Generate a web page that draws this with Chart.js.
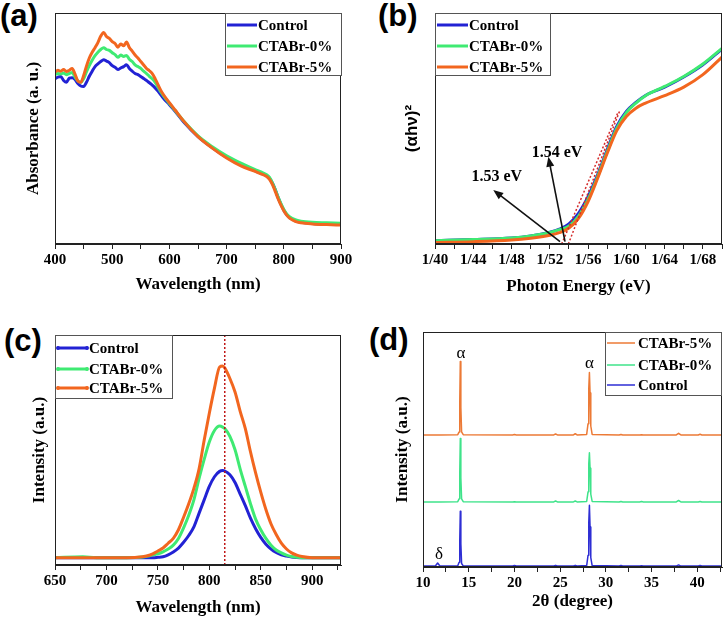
<!DOCTYPE html>
<html><head><meta charset="utf-8">
<script src="https://cdn.jsdelivr.net/npm/chart.js@4.4.1/dist/chart.umd.min.js"></script>
<style>
body{margin:0;background:#fff;width:724px;height:619px;position:relative;overflow:hidden}
canvas{position:absolute}
.lab{position:absolute;font:bold 31px "Liberation Sans",Arial,sans-serif;color:#000;line-height:30px}
</style></head><body>
<div class="lab" style="left:0;top:1px">(a)</div>
<div class="lab" style="left:378px;top:1px">(b)</div>
<div class="lab" style="left:4px;top:326px">(c)</div>
<div class="lab" style="left:369px;top:325px">(d)</div>
<canvas id="ca" width="362" height="300" style="left:0;top:0"></canvas>
<canvas id="cb" width="362" height="300" style="left:362px;top:0"></canvas>
<canvas id="cc" width="362" height="319" style="left:0;top:300px"></canvas>
<canvas id="cd" width="362" height="319" style="left:362px;top:300px"></canvas>
<script>
// ---------- (a) UV-vis absorbance ----------
const absWl = [400,405,410,415,420,425,430,435,440,445,450,455,460,465,470,475,480,485,490,495,500,505,510,515,520,525,530,535,540,545,550,555,560,565,570,575,580,585,590,600,610,625,650,675,700,725,750,760,770,775,780,785,790,795,800,805,810,820,830,850,875,900];
const absCtab5 = [.743,.752,.748,.755,.747,.752,.760,.735,.705,.700,.728,.770,.805,.830,.850,.872,.900,.916,.898,.890,.876,.868,.852,.866,.858,.874,.850,.835,.818,.805,.790,.775,.760,.750,.738,.716,.690,.665,.645,.612,.580,.532,.465,.415,.372,.338,.314,.304,.292,.280,.258,.228,.196,.168,.144,.125,.112,.098,.092,.087,.084,.082];
const absCtab0 = [.733,.738,.736,.740,.733,.738,.742,.722,.706,.700,.715,.745,.772,.795,.815,.830,.842,.850,.842,.838,.828,.820,.808,.818,.812,.816,.800,.790,.775,.768,.760,.748,.738,.726,.715,.700,.680,.658,.640,.608,.578,.532,.468,.421,.382,.350,.322,.312,.300,.288,.265,.236,.203,.175,.150,.130,.118,.105,.099,.094,.092,.090];
const absControl = [.715,.722,.725,.708,.700,.718,.720,.712,.695,.684,.682,.700,.726,.748,.768,.780,.790,.798,.792,.785,.772,.765,.755,.762,.768,.776,.760,.748,.738,.733,.725,.716,.708,.698,.688,.676,.662,.646,.630,.603,.575,.528,.465,.417,.376,.343,.317,.306,.295,.284,.264,.236,.202,.172,.146,.127,.114,.100,.094,.089,.086,.085];

// ---------- (b) Tauc plot ----------
const tauE = [1.40,1.44,1.48,1.50,1.52,1.53,1.54,1.55,1.56,1.57,1.58,1.59,1.60,1.61,1.62,1.64,1.66,1.68,1.70];
const tauControl = [.0145,.019,.026,.035,.051,.064,.087,.133,.205,.299,.408,.509,.574,.613,.643,.679,.723,.776,.844];
const tauCtab0 = [.0145,.019,.026,.035,.050,.062,.078,.121,.194,.292,.400,.501,.569,.610,.642,.682,.725,.779,.847];
const tauCtab5 = [.007,.010,.017,.025,.038,.049,.069,.111,.184,.285,.393,.491,.552,.588,.610,.642,.679,.733,.809];
const tangent1E = [1.5324,1.5916], tangent1Y = [0,0.573];
const tangent2E = [1.5394,1.5934], tangent2Y = [0,0.580];
const gapArrows = [[1.5307,0.010,1.4609,0.234],[1.5359,0.010,1.5185,0.378]];
const gapLabels = ['1.53 eV','1.54 eV'];
const gapLabelAt = [[1.4645,0.291],[1.5275,0.394]];

// ---------- (c) PL ----------
const plWl = [650,677,690,700,720,735,740,745,750,755,760,765,770,775,780,785,790,795,800,805,810,813,815,820,825,830,835,840,845,850,855,860,865,870,875,880,885,890,900,928];
const plCtab5 = [0,0,0,0,0,.005,.01,.02,.035,.05,.075,.10,.145,.21,.28,.36,.46,.61,.75,.88,.99,.995,.985,.93,.86,.76,.67,.55,.44,.34,.25,.175,.12,.075,.045,.025,.013,.006,0,0];
const plCtab0 = [0,.005,0,0,0,.003,.008,.015,.02,.03,.045,.065,.10,.155,.22,.30,.41,.51,.60,.66,.683,.678,.67,.63,.56,.46,.37,.28,.20,.145,.10,.065,.04,.025,.013,.006,.002,0,0,0];
const plControl = [0,0,0,0,0,0,0,0,.002,.005,.015,.03,.05,.08,.115,.16,.23,.30,.37,.42,.448,.452,.45,.43,.39,.33,.27,.205,.15,.105,.07,.045,.027,.015,.008,.003,.001,0,0,0];
const plMarkX = [815,815], plMarkY = [-0.038,1.156];

// ---------- (d) XRD ----------
const xrdTheta = [10,11.35,11.6,11.85,13.8,13.95,14.02,14.08,14.14,14.22,14.4,19.8,20.0,20.2,24.3,24.5,24.7,26.45,26.65,26.85,27.9,28.05,28.13,28.2,28.27,28.35,28.5,31.45,31.65,31.85,33.7,33.9,34.1,37.7,37.95,38.2,40.1,40.3,40.5,42.7];
const xrdControl = [.004,.004,.017,.004,.005,.02,.11,.2375,.10,.015,.005,.004,.006,.004,.004,.007,.004,.004,.007,.004,.006,.05,.19,.263,.17,.04,.006,.004,.006,.004,.004,.005,.004,.004,.009,.004,.004,.006,.004,.004];
const xrdCtab0 = [.277,.277,.277,.277,.278,.29,.40,.547,.38,.29,.278,.277,.278,.277,.277,.281,.277,.277,.281,.277,.279,.32,.44,.486,.42,.31,.279,.277,.279,.277,.277,.279,.277,.277,.283,.277,.277,.279,.277,.277];
const xrdCtab5 = [.562,.562,.562,.562,.563,.575,.70,.874,.68,.575,.563,.562,.564,.562,.562,.566,.562,.562,.567,.562,.564,.61,.76,.828,.74,.60,.564,.562,.564,.562,.562,.563,.562,.562,.569,.562,.562,.565,.562,.562];
const phaseLabels = ['α','α','δ'];
const phaseLabelAt = [[14.16,0.91],[28.2,0.865],[11.75,0.052]];

// ---------- drawing ----------
const SERIF = '"Liberation Serif","Times New Roman",serif';
const BLUE='#2222d4', GREEN='#3fea72', ORANGE='#f2661f';
const pts = (xs, ys) => xs.map((x,i)=>({x:x, y:ys[i]}));

function framePlugin(){ return {id:'frame', afterDatasetsDraw(chart){
  const {ctx, chartArea:a} = chart; ctx.save(); ctx.strokeStyle='#222'; ctx.lineWidth=1;
  ctx.strokeRect(Math.round(a.left)+0.5, Math.round(a.top)+0.5, Math.round(a.right-a.left)-1, Math.round(a.bottom-a.top)-1);
  ctx.restore(); }}; }

function legendPlugin(L){ return {id:'boxLegend', afterDraw(chart){
  const ctx = chart.ctx; ctx.save();
  ctx.fillStyle='#fff'; ctx.fillRect(L.x, L.y, L.w, L.h);
  ctx.strokeStyle='#555'; ctx.lineWidth=1; ctx.strokeRect(L.x+0.5, L.y+0.5, L.w, L.h);
  L.items.forEach((idx,i)=>{
    const ds = chart.data.datasets[idx]; const y = L.rows[i];
    ctx.strokeStyle = ds.borderColor; ctx.lineWidth = L.lw;
    ctx.beginPath(); ctx.moveTo(L.x0, y); ctx.lineTo(L.x1, y); ctx.stroke();
    if (L.dots){ ctx.fillStyle = ds.borderColor; [L.x0+1, L.x1-1].forEach(px=>{ctx.beginPath(); ctx.arc(px,y,2,0,Math.PI*2); ctx.fill();}); }
    ctx.fillStyle='#000'; ctx.font='bold 15px '+SERIF; ctx.textBaseline='middle'; ctx.textAlign='left';
    ctx.fillText(ds.label, L.tx, y+1);
  });
  ctx.restore(); }}; }

function notesPlugin(N){ return {id:'notes', afterDatasetsDraw(chart){
  const xs = chart.scales.x, ys = chart.scales.y, ctx = chart.ctx; ctx.save();
  (N.arrows||[]).forEach(a=>{
    const x1=xs.getPixelForValue(a[0]), y1=ys.getPixelForValue(a[1]), x2=xs.getPixelForValue(a[2]), y2=ys.getPixelForValue(a[3]);
    const ang = Math.atan2(y2-y1, x2-x1), hl=10, hw=4;
    ctx.strokeStyle='#111'; ctx.lineWidth=1.6;
    ctx.beginPath(); ctx.moveTo(x1,y1); ctx.lineTo(x2-Math.cos(ang)*hl*0.8, y2-Math.sin(ang)*hl*0.8); ctx.stroke();
    ctx.fillStyle='#111'; ctx.beginPath(); ctx.moveTo(x2,y2);
    ctx.lineTo(x2-Math.cos(ang)*hl - Math.sin(ang)*hw, y2-Math.sin(ang)*hl + Math.cos(ang)*hw);
    ctx.lineTo(x2-Math.cos(ang)*hl + Math.sin(ang)*hw, y2-Math.sin(ang)*hl - Math.cos(ang)*hw);
    ctx.closePath(); ctx.fill();
  });
  (N.texts||[]).forEach(t=>{
    ctx.fillStyle='#000'; ctx.font=N.font; ctx.textAlign='center'; ctx.textBaseline='middle';
    ctx.fillText(t[0], xs.getPixelForValue(t[1]), ys.getPixelForValue(t[2]));
  });
  ctx.restore(); }}; }

function build(id, o){
  return new Chart(document.getElementById(id), {type:'line', data:{datasets:o.datasets}, options:{
    responsive:false, animation:false, devicePixelRatio:1,
    layout:{padding:o.pad},
    plugins:{legend:{display:false}, tooltip:{enabled:false}},
    elements:{point:{radius:0}, line:{borderJoinStyle:'round'}},
    scales:{
      x:{type:'linear', min:o.xmin, max:o.xmax, afterFit:s=>{s.height=o.xh;},
        ticks:{stepSize:o.step, autoSkip:false, includeBounds:false, maxRotation:0, color:'#000',
          font:{family:SERIF, size:15, weight:'bold'}, padding:2, callback:o.fmt},
        grid:{drawOnChartArea:false, drawTicks:true, tickLength:5, color:'#222'},
        border:{color:'#222', width:1},
        title:{display:true, text:o.xt, color:'#000', font:{family:SERIF, size:17, weight:'bold'}, padding:{top:0, bottom:o.xtp}}},
      y:{type:'linear', min:o.ymin, max:o.ymax, afterFit:s=>{s.width=o.yw;},
        ticks:{display:false}, grid:{display:false}, border:{color:'#222'},
        title:{display:true, text:o.yt, color:'#000', font:o.ytf || {family:SERIF, size:17, weight:'bold'}, padding:{top:o.ytp, bottom:0}}}
    }}, plugins:[framePlugin(), notesPlugin(o.notes||{}), legendPlugin(o.legend)]});
}
const smooth = {pointRadius:0, borderWidth:3, cubicInterpolationMode:'monotone', fill:false};

// (a)
build('ca', {pad:{left:0,top:13,right:21,bottom:0}, yw:55, xh:56, xmin:400, xmax:900, step:50,
  fmt:v=>v%100===0?String(v):'', xt:'Wavelength (nm)', xtp:5, ymin:0, ymax:1, yt:'Absorbance (a. u.)', ytp:23,
  datasets:[
    Object.assign({label:'CTABr-5%', data:pts(absWl,absCtab5), borderColor:ORANGE}, smooth),
    Object.assign({label:'CTABr-0%', data:pts(absWl,absCtab0), borderColor:GREEN}, smooth),
    Object.assign({label:'Control', data:pts(absWl,absControl), borderColor:BLUE}, smooth)],
  legend:{x:225,y:13,w:116,h:62,rows:[25,46,67],x0:227,x1:257,tx:258,lw:3,items:[2,1,0]}});

// (b)
build('cb', {pad:{left:0,top:13,right:2,bottom:0}, yw:73, xh:56, xmin:1.40, xmax:1.70, step:0.02,
  fmt:v=>{const k=Math.round(v*100); return k%4===0?('1/'+(k-100)):'';}, xt:'Photon Energy (eV)', xtp:3,
  ymin:0, ymax:1, yt:'(αhν)²', ytf:{family:'"Liberation Sans",Arial,sans-serif', size:17, weight:'bold'}, ytp:40,
  datasets:[
    {label:'', data:pts(tangent1E,tangent1Y), borderColor:'#d42a2a', borderWidth:1.5, borderDash:[2,2], pointRadius:0},
    {label:'', data:pts(tangent2E,tangent2Y), borderColor:'#d42a2a', borderWidth:1.5, borderDash:[2,2], pointRadius:0},
    Object.assign({label:'CTABr-5%', data:pts(tauE,tauCtab5), borderColor:ORANGE}, smooth),
    Object.assign({label:'CTABr-0%', data:pts(tauE,tauCtab0), borderColor:GREEN}, smooth),
    Object.assign({label:'Control', data:pts(tauE,tauControl), borderColor:BLUE}, smooth)],
  notes:{arrows:gapArrows, texts:gapLabels.map((t,i)=>[t,gapLabelAt[i][0],gapLabelAt[i][1]]), font:'bold 16px '+SERIF},
  legend:{x:73,y:13,w:115,h:62,rows:[25,46,67],x0:75,x1:106,tx:107,lw:3,items:[4,3,2]}});

// (c)
build('cc', {pad:{left:0,top:35,right:21,bottom:0}, yw:55, xh:54, xmin:650, xmax:928, step:25,
  fmt:v=>v%50===0?String(v):'', xt:'Wavelength (nm)', xtp:1, ymin:-0.038, ymax:1.156, yt:'Intensity (a.u.)', ytp:29,
  datasets:[
    {label:'', data:pts(plMarkX,plMarkY), borderColor:'#c01818', borderWidth:1.5, borderDash:[2,2], pointRadius:0},
    Object.assign({label:'CTABr-5%', data:pts(plWl,plCtab5), borderColor:ORANGE}, smooth),
    Object.assign({label:'CTABr-0%', data:pts(plWl,plCtab0), borderColor:GREEN}, smooth),
    Object.assign({label:'Control', data:pts(plWl,plControl), borderColor:BLUE}, smooth)],
  legend:{x:55,y:35,w:117,h:63,rows:[48,69,88],x0:57,x1:88,tx:89,lw:3,dots:true,items:[3,2,1]}});

// (d)
const thin = {pointRadius:0, borderWidth:1.5, tension:0, fill:false};
build('cd', {pad:{left:0,top:32,right:2,bottom:0}, yw:61, xh:52, xmin:10, xmax:42.7, step:2.5,
  fmt:v=>v%5===0?String(v):'', xt:'2θ (degree)', xtp:7, ymin:0, ymax:1, yt:'Intensity (a.u.)', ytp:30,
  datasets:[
    Object.assign({label:'CTABr-5%', data:pts(xrdTheta,xrdCtab5), borderColor:'#ec7a36'}, thin),
    Object.assign({label:'CTABr-0%', data:pts(xrdTheta,xrdCtab0), borderColor:'#3fe38a'}, thin),
    Object.assign({label:'Control', data:pts(xrdTheta,xrdControl), borderColor:'#2e2ed4'}, thin)],
  notes:{texts:phaseLabels.map((t,i)=>[t,phaseLabelAt[i][0],phaseLabelAt[i][1]]), font:'17px '+SERIF},
  legend:{x:243,y:32,w:116,h:63,rows:[43,65,85],x0:245,x1:273,tx:276,lw:1.5,items:[0,1,2]}});
</script>
</body></html>
